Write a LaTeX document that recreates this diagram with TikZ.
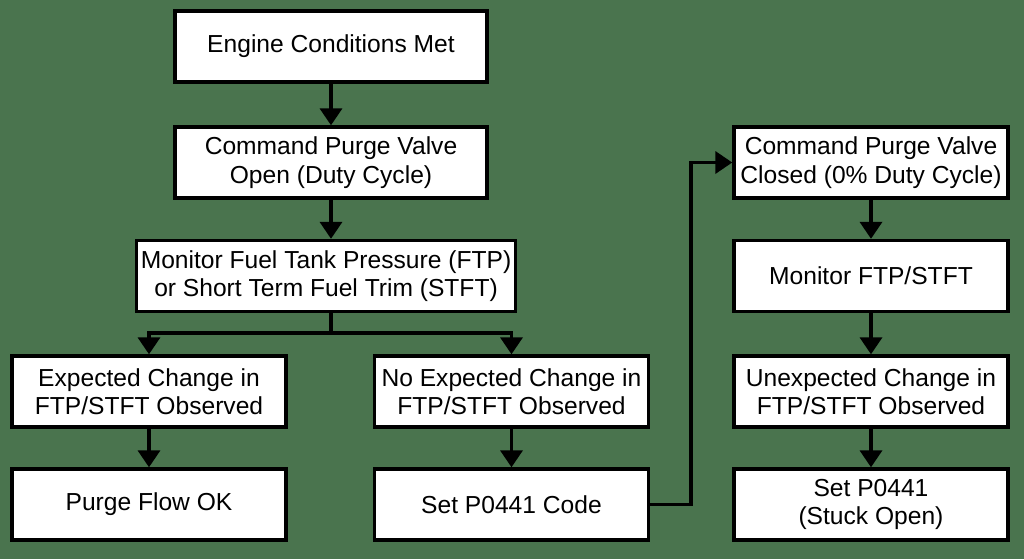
\documentclass[tikz,border=0pt]{standalone}
\usepackage{fontspec}
\setmainfont{Liberation Sans}
\usetikzlibrary{arrows.meta}
\definecolor{boardgreen}{RGB}{74,116,78}

\begin{document}
\begin{tikzpicture}[
  x=0.5pt,
  y=-0.5pt,
  font=\fontsize{12.3pt}{14.3pt}\selectfont,
  stepbox/.style={
    rectangle,
    draw=black,
    fill=white,
    line width=1.7pt,
    minimum width=137pt,
    minimum height=35.5pt,
    inner sep=2pt,
    align=center
  },
  widebox/.style={stepbox, minimum width=156pt},
  flow/.style={draw=black, line width=1.8pt,
    -{Triangle[length=8.5pt,width=11pt]}},
  joint/.style={draw=black, line width=1.8pt}
]

% Canvas with the reference margins.
\path[fill=boardgreen, use as bounding box] (0,0) rectangle (1024,559);

% ---------------------------------------------------------------------------
% Open-valve test (left and middle columns)
% ---------------------------------------------------------------------------
\node[widebox] (start) at (331,46.5) {Engine Conditions Met};
\node[widebox] (purgeopen) at (331,162.5) {Command Purge Valve\\Open (Duty Cycle)};
\node[stepbox, minimum width=187pt] (monitor) at (326,276)
  {Monitor Fuel Tank Pressure (FTP)\\or Short Term Fuel Trim (STFT)};

\node[stepbox] (expected) at (149,391.5) {Expected Change in\\FTP/STFT Observed};
\node[stepbox] (noexpected) at (511.5,391.5) {No Expected Change in\\FTP/STFT Observed};
\node[stepbox] (flowok) at (149,504.5) {Purge Flow OK};
\node[stepbox] (setcode) at (511.5,504.5) {Set P0441 Code};

% ---------------------------------------------------------------------------
% Closed-valve test (right column)
% ---------------------------------------------------------------------------
\node[stepbox] (purgeclosed) at (871,162.5) {Command Purge Valve\\Closed (0\% Duty Cycle)};
\node[stepbox] (monitorclosed) at (871,276) {Monitor FTP/STFT};
\node[stepbox] (unexpected) at (871,391.5) {Unexpected Change in\\FTP/STFT Observed};
\node[stepbox] (stuckopen) at (871,504.5) {Set P0441\\(Stuck Open)};

% Connectors.
\draw[flow] (start) -- (purgeopen);
\draw[flow] (purgeopen) -- (start |- monitor.north);
\coordinate (split) at (331,333);
\draw[joint] (start |- monitor.south) -- (split);
\draw[flow] (split) -| (expected);
\draw[flow] (split) -| (noexpected);
\draw[flow] (expected) -- (flowok);
\draw[flow] (noexpected) -- (setcode);
\draw[flow] (setcode.east) -- ++(41,0) |- (purgeclosed.west);
\draw[flow] (purgeclosed) -- (monitorclosed);
\draw[flow] (monitorclosed) -- (unexpected);
\draw[flow] (unexpected) -- (stuckopen);

\end{tikzpicture}
\end{document}
